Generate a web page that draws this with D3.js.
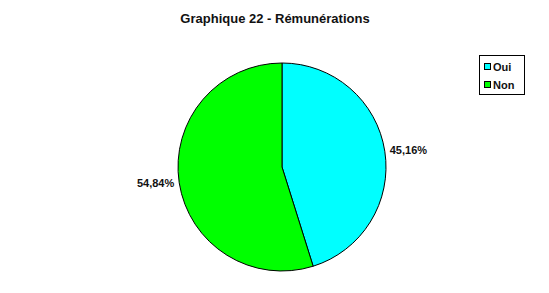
<!DOCTYPE html>
<html>
<head>
<meta charset="utf-8">
<script src="https://cdn.jsdelivr.net/npm/d3@7"></script>
<style>
  body { margin: 0; background: #fff; }
  text { font-family: "Liberation Sans", Arial, sans-serif; font-weight: bold; }
</style>
</head>
<body>
<div id="chart"></div>
<script>
var categories = ["Oui", "Non"];
var values = [45.16, 54.84];
var labels = ["45,16%", "54,84%"];
var colors = ["#00ffff", "#00ff00"];

var width = 549, height = 293;
var cx = 282, cy = 167, radius = 104;

var svg = d3.select("#chart").append("svg")
    .attr("width", width)
    .attr("height", height);

// title
svg.append("text")
    .attr("x", 275)
    .attr("y", 23)
    .attr("text-anchor", "middle")
    .attr("font-size", 13)
    .attr("fill", "#111")
    .text("Graphique 22 - Rémunérations");

var pie = d3.pie().sort(null).value(d => d);
var arcs = pie(values);

var arc = d3.arc().innerRadius(0).outerRadius(radius);

var chart = svg.append("g")
    .attr("transform", "translate(" + cx + "," + cy + ")");

chart.selectAll("path")
    .data(arcs)
    .enter().append("path")
    .attr("d", arc)
    .attr("fill", (d, i) => colors[i])
    .attr("stroke", "#000")
    .attr("stroke-width", 1);

// percent labels anchored just outside the rim at the mid angle
var labelArc = d3.arc().innerRadius(radius + 5).outerRadius(radius + 5);
var midAngle = d => (d.startAngle + d.endAngle) / 2;

chart.selectAll("text.pct")
    .data(arcs)
    .enter().append("text")
    .attr("class", "pct")
    .attr("x", d => labelArc.centroid(d)[0])
    .attr("y", d => labelArc.centroid(d)[1])
    .attr("dy", "0.35em")
    .attr("text-anchor", d => midAngle(d) < Math.PI ? "start" : "end")
    .attr("font-size", 11)
    .attr("fill", "#111")
    .text((d, i) => labels[i]);

// legend
var legend = svg.append("g").attr("transform", "translate(479,55)");
legend.append("rect")
    .attr("x", 0.5).attr("y", 0.5)
    .attr("width", 45).attr("height", 39)
    .attr("fill", "#fff")
    .attr("stroke", "#000");

var item = legend.selectAll("g.item")
    .data(categories)
    .enter().append("g")
    .attr("class", "item")
    .attr("transform", (d, i) => "translate(5," + (12 + i * 18) + ")");

item.append("rect")
    .attr("x", 0.5).attr("y", -3.5)
    .attr("width", 6).attr("height", 6)
    .attr("fill", (d, i) => colors[i])
    .attr("stroke", "#000");

item.append("text")
    .attr("x", 9)
    .attr("y", 0)
    .attr("dy", "0.35em")
    .attr("font-size", 11)
    .attr("fill", "#111")
    .text(d => d);
</script>
</body>
</html>
